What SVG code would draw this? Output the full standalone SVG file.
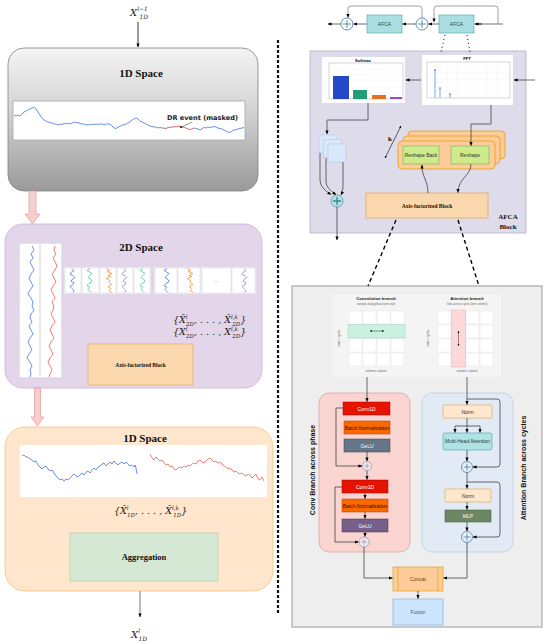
<svg xmlns="http://www.w3.org/2000/svg" width="550" height="644" viewBox="0 0 550 644">
<defs>
<style>
.sb{font-family:"Liberation Serif","DejaVu Serif",serif;font-weight:bold;fill:#111}
.ss{font-family:"Liberation Sans",Arial,sans-serif}
.m{font-family:"DejaVu Serif","Liberation Serif",serif;font-style:italic;fill:#222}
.ln{fill:none;stroke:#000;stroke-width:0.8}
.lg{fill:none;stroke:#444;stroke-width:0.8}
.cell{fill:#fff;stroke:#e6e6e6;stroke-width:0.5}
.pn{fill:#fff;stroke:#dcdcdc;stroke-width:0.6}
.wg{fill:none;stroke-width:0.7}
.bt{font-family:"Liberation Sans",Arial,sans-serif;font-size:5px;text-anchor:middle}
</style>
<linearGradient id="gray" x1="0" y1="0" x2="0" y2="1">
<stop offset="0" stop-color="#f4f4f4"/><stop offset="0.45" stop-color="#d2d2d2"/><stop offset="1" stop-color="#9a9a9a"/>
</linearGradient>
<marker id="ah" viewBox="0 0 10 10" refX="9" refY="5" markerWidth="4" markerHeight="4" markerUnits="userSpaceOnUse" orient="auto"><path d="M0,1 L10,5 L0,9 z" fill="#000"/></marker>
<marker id="ahs" viewBox="0 0 10 10" refX="9" refY="5" markerWidth="2.5" markerHeight="2.5" markerUnits="userSpaceOnUse" orient="auto-start-reverse"><path d="M0,1 L10,5 L0,9 z" fill="#000"/></marker>
<path id="w1" d="M4 0 L6 2 L3 4 L2 6 L5 7 L7 9 L4 11 L3 13 L6 14 L5 16 L2 18 L4 20 L6 22 L5 24"/>
<path id="w2" d="M6 0 L3 2 L5 3 L8 5 L6 7 L4 9 L7 11 L8 13 L5 15 L3 17 L6 19 L4 21 L7 24"/>
<path id="w3" d="M3 0 L7 2 L4 3 L9 5 L5 7 L8 8 L3 10 L7 12 L6 14 L9 16 L5 18 L8 20 L6 22 L9 24"/>
</defs>
<rect width="550" height="644" fill="#fff"/>

<!-- LEFT COLUMN -->
<g id="input-label">
<text x="130" y="16" class="m" font-size="10">X<tspan font-size="6" dy="-5">l−1</tspan><tspan font-size="6" dx="-8.5" dy="7.5">1D</tspan></text>
</g>
<g id="space1d-top">
<rect x="8" y="48" width="250" height="143" rx="16" fill="url(#gray)" stroke="#808080" stroke-width="0.8"/>
<text x="141" y="77" class="sb" font-size="11" text-anchor="middle">1D Space</text>
<rect x="13" y="101" width="232" height="39" fill="#fff" stroke="#a8a8a8" stroke-width="0.8"/>
<polyline class="wg" stroke="#2f5fe0" stroke-width="0.9" points="14,115 16,116 18,115 20,116 22,114 24,112 26,111 28,110 30,109 32,108 34,107.5 36,109 38,112 40,115 42,118 44,120 46,121 48,122 50,122.5 52,123 54,124 56,124 58,125 60,124 62,124.5 64,123.5 66,124 68,123 70,124 72,123 74,122 76,123 78,122.5 80,123.5 82,124 84,124 86,125 88,124.5 90,125 92,124 94,124.5 96,124 98,124.5 100,124 102,124 104,125 106,124 108,124 110,124 112,126 114,128 116,128.5 118,127 120,126.5 122,125 124,125 126,124 128,123 130,122 132,120 134,119 136,118 138,119 140,121 142,122 144,123 146,124 148,125 150,126 152,126.5 154,127 156,127 158,128 160,127.5 162,128 163,128"/>
<polyline class="wg" stroke="#e02020" stroke-width="0.9" points="163,128 166,128.5 168,127.5 170,127 172,127.5 174,126.5 176,127 178,126 180,126.5 182,127.5 184,127 186,128 188,129 190,129.5 192,129 194,128"/>
<polyline class="wg" stroke="#2f5fe0" stroke-width="0.9" points="194,128 196,128.5 198,129 200,130 202,128.5 204,127.5 206,128 208,127 210,127.5 212,127 214,126.5 216,127 218,128 220,128.5 222,129 224,130 226,131 228,132 230,132.5 232,131 234,130 236,129.5 238,129 240,128.5 242,128 244,127.5"/>
<text x="167" y="120" font-size="6.6" font-family="DejaVu Sans,Liberation Sans,sans-serif" font-weight="bold" fill="#222">DR event (masked)</text>
<line x1="192" y1="122" x2="181" y2="127" stroke="#333" stroke-width="0.5"/>
<circle cx="181" cy="127" r="0.9" fill="#000"/>
</g>
<g id="space2d">
<rect x="5" y="224" width="257" height="164" rx="18" fill="#e4d6ea" stroke="#c9b3d4" stroke-width="0.8"/>
<text x="141" y="251" class="sb" font-size="11" text-anchor="middle">2D Space</text>
<rect x="19" y="243" width="43" height="135" fill="#e8e8e8" stroke="#d8d8d8" stroke-width="0.5"/>
<rect x="20" y="244" width="19" height="133" fill="#fff"/>
<rect x="41" y="244" width="20" height="133" fill="#fff"/>
<path class="wg" stroke="#3060e0" d="M32 246 L34 250 L31 254 L33 258 L30 262 L32 266 L34 270 L31 274 L29 278 L31 282 L33 286 L30 290 L28 294 L31 298 L33 302 L32 306 L34 310 L31 314 L30 318 L32 322 L29 326 L31 330 L33 334 L30 338 L28 342 L30 346 L32 350 L29 354 L27 358 L30 362 L32 366 L30 370 L31 374 L30 377"/>
<path class="wg" stroke="#e84040" d="M55 246 L54 250 L56 254 L53 258 L55 262 L57 266 L55 270 L52 274 L54 278 L56 282 L53 286 L51 290 L53 294 L55 298 L52 302 L54 306 L53 310 L51 314 L53 318 L55 322 L52 326 L50 330 L52 334 L54 338 L51 342 L49 346 L51 350 L53 354 L50 358 L48 362 L50 366 L52 370 L50 374 L49 377"/>
<rect x="64" y="267" width="87" height="27" fill="#ececec"/>
<rect x="154" y="267" width="102" height="27" fill="#ececec"/>
<rect class="pn" x="65" y="268" width="16" height="25"/>
<rect class="pn" x="82" y="268" width="17" height="25"/>
<rect class="pn" x="100" y="268" width="16" height="25"/>
<rect class="pn" x="117" y="268" width="16" height="25"/>
<rect class="pn" x="134" y="268" width="16" height="25"/>
<rect class="pn" x="155" y="268" width="22" height="25"/>
<rect class="pn" x="178" y="268" width="22" height="25"/>
<rect class="pn" x="202" y="268" width="29" height="25"/>
<rect class="pn" x="232" y="268" width="23" height="25"/>
<use href="#w1" x="68" y="268.5" class="wg" stroke="#3a62e0"/>
<use href="#w2" x="84" y="268.5" class="wg" stroke="#2fb38a"/>
<use href="#w3" x="103" y="268.5" class="wg" stroke="#f08a24"/>
<use href="#w1" x="120" y="268.5" class="wg" stroke="#a070d0"/>
<use href="#w2" x="137" y="268.5" class="wg" stroke="#35c28e"/>
<use href="#w2" x="161" y="268.5" class="wg" stroke="#3a62e0"/>
<use href="#w3" x="184" y="268.5" class="wg" stroke="#f08a24"/>
<text x="216.5" y="282" class="ss" font-size="5" fill="#888" text-anchor="middle">...</text>
<use href="#w1" x="240" y="268.5" class="wg" stroke="#a070d0"/>
<text x="173" y="323" class="m" font-size="9.5">{X&#x302;<tspan font-size="5.5" dy="-4">l</tspan><tspan font-size="5.5" dx="-1.5" dy="6.5">2D</tspan><tspan dy="-2.5">, . . . , X&#x302;</tspan><tspan font-size="5.5" dy="-4">l,k</tspan><tspan font-size="5.5" dx="-5.5" dy="6.5">2D</tspan><tspan dy="-2.5">}</tspan></text>
<text x="173" y="335" class="m" font-size="9.5">{X<tspan font-size="5.5" dy="-4">l</tspan><tspan font-size="5.5" dx="-1.5" dy="6.5">2D</tspan><tspan dy="-2.5">, . . . , X</tspan><tspan font-size="5.5" dy="-4">l,k</tspan><tspan font-size="5.5" dx="-5.5" dy="6.5">2D</tspan><tspan dy="-2.5">}</tspan></text>
<rect x="88" y="344" width="105" height="41" fill="#fad7ac" stroke="#e8b070" stroke-width="0.8"/>
<text x="140.5" y="366.5" class="sb" font-size="5.5" text-anchor="middle">Axis-factorized Block</text>
</g>
<g id="space1d-bottom">
<rect x="5" y="427" width="268" height="164" rx="20" fill="#ffe6cc" stroke="#f2c27c" stroke-width="0.8"/>
<text x="145" y="442" class="sb" font-size="11" text-anchor="middle">1D Space</text>
<rect x="20" y="445" width="247" height="52" fill="#fff"/>
<polyline class="wg" stroke="#2f5fe0" points="22,456 24,455 26,457 28,457 30,459 32,460 34,462 36,461 38,465 40,467 42,469 44,467 46,466 48,469 50,471 52,470 54,473 56,476 58,478 60,480 62,479 64,481 66,479 68,480 70,478 72,476 74,474 76,476 78,477 80,475 82,473 84,475 86,472 88,471 90,473 92,470 94,468 96,470 98,467 100,466 102,464 104,463 106,466 108,464 110,462 112,464 114,461 116,463 118,465 120,463 122,462 124,464 126,462 128,464 130,466 132,465 134,467 135,465 136,468 137,474"/>
<polyline class="wg" stroke="#ec4a3a" points="150,454 152,458 154,460 156,457 158,459 160,461 162,460 164,463 166,465 168,464 170,467 172,466 174,469 176,470 178,468 180,467 182,468 184,466 186,467 188,465 190,466 192,464 194,463 196,464 198,461 200,460 202,462 204,463 206,461 208,459 210,458 212,460 214,462 216,461 218,463 220,462 222,464 224,466 226,467 228,469 230,468 232,470 234,472 236,471 238,473 240,474 242,473 244,475 246,476 248,474 250,475 252,478 254,476 256,474 258,479 260,480 262,477 264,481"/>
<text x="114" y="514" class="m" font-size="9.5">{X&#x302;<tspan font-size="5.5" dy="-4">l</tspan><tspan font-size="5.5" dx="-1.5" dy="6.5">1D</tspan><tspan dy="-2.5">, . . . , X&#x302;</tspan><tspan font-size="5.5" dy="-4">l,k</tspan><tspan font-size="5.5" dx="-5.5" dy="6.5">1D</tspan><tspan dy="-2.5">}</tspan></text>
<rect x="70" y="533" width="148" height="48" fill="#d5e8d4" stroke="#b3d5b0" stroke-width="0.8"/>
<text x="144" y="560" class="sb" font-size="8.5" text-anchor="middle">Aggregation</text>
</g>
<g id="output-label">
<text x="131" y="638" class="m" font-size="10">X<tspan font-size="6" dy="-5">l</tspan><tspan font-size="6" dx="-1.5" dy="7.5">1D</tspan></text>
</g>

<!-- RIGHT TOP -->
<g id="afca1">
<rect x="367" y="15" width="35" height="18" fill="#a9dfe0" stroke="#5aaeb0" stroke-width="0.7"/>
<text x="384.5" y="26" class="bt" fill="#2a4a50">AFCA</text>
</g>
<g id="afca2">
<rect x="439" y="15" width="35" height="18" fill="#a9dfe0" stroke="#5aaeb0" stroke-width="0.7"/>
<text x="456.5" y="26" class="bt" fill="#2a4a50">AFCA</text>
</g>
<g id="add1">
<circle cx="347" cy="24" r="6" fill="#fff" stroke="#3a7aa0" stroke-width="0.8"/>
<path d="M343 24 H351 M347 20 V28" stroke="#3a7aa0" stroke-width="0.8"/>
</g>
<g id="add2">
<circle cx="422" cy="24" r="6" fill="#fff" stroke="#3a7aa0" stroke-width="0.8"/>
<path d="M418 24 H426 M422 20 V28" stroke="#3a7aa0" stroke-width="0.8"/>
</g>

<!-- AFCA block -->
<g id="afca-block">
<rect x="310" y="51" width="216" height="182" fill="#dedbea" stroke="#b6b0c8" stroke-width="0.8"/>
<text x="508" y="219" class="sb" font-size="7" text-anchor="middle">AFCA</text>
<text x="508" y="229" class="sb" font-size="7" text-anchor="middle">Block</text>
</g>
<g id="softmax-chart">
<rect x="322" y="57" width="83" height="46" fill="#fff"/>
<text x="363" y="62" class="ss" font-size="4" font-weight="bold" text-anchor="middle">Softmax</text>
<path d="M329 69 H403 M329 75 H403 M329 81 H403 M329 87 H403 M329 93 H403" stroke="#eee" stroke-width="0.4"/>
<rect x="329" y="63" width="74" height="36" fill="none" stroke="#999" stroke-width="0.4"/>
<rect x="333" y="76" width="16" height="23" fill="#2448c8"/>
<rect x="353" y="90" width="14" height="9" fill="#1f9e78"/>
<rect x="372" y="95" width="14" height="4" fill="#e8701e"/>
<rect x="390" y="97" width="12" height="2" fill="#9a4bc0"/>
</g>
<g id="fft-chart">
<rect x="422" y="55" width="91" height="50" fill="#fff"/>
<text x="467" y="60" class="ss" font-size="4" font-weight="bold" text-anchor="middle">FFT</text>
<path d="M427 67 H510 M427 73 H510 M427 79 H510 M427 85 H510 M427 91 H510 M437 62 V98 M447 62 V98 M457 62 V98 M467 62 V98 M477 62 V98 M487 62 V98 M497 62 V98" stroke="#eee" stroke-width="0.4"/>
<rect x="427" y="62" width="83" height="36" fill="none" stroke="#999" stroke-width="0.4"/>
<path d="M435 70 V98 M440 88 V98 M450 94 V98" stroke="#8fb4f0" stroke-width="1.2"/>
<circle cx="435" cy="70" r="0.8" fill="#3060d0"/><circle cx="440" cy="88" r="0.8" fill="#3060d0"/><circle cx="450" cy="94" r="0.8" fill="#3060d0"/>
</g>
<g id="weights-stack">
<rect x="319" y="135" width="18" height="18" fill="#dae8fc" stroke="#b0c8e8" stroke-width="0.6"/>
<rect x="323.5" y="139.5" width="18" height="18" fill="#dae8fc" stroke="#b0c8e8" stroke-width="0.6"/>
<rect x="328" y="144" width="18" height="18" fill="#dae8fc" stroke="#b0c8e8" stroke-width="0.6"/>
</g>
<g id="weighted-sum">
<circle cx="337" cy="201" r="6" fill="#b8e0e2" stroke="#5a9aa0" stroke-width="0.8"/>
<path d="M333 201 H341 M337 197 V205" stroke="#2a8a9a" stroke-width="1.3"/>
</g>
<g id="k-stack">
<rect x="408" y="131" width="97" height="28" rx="4" fill="#ffcc99" stroke="#d79b00" stroke-width="0.7"/>
<rect x="403" y="136" width="97" height="28" rx="4" fill="#ffcc99" stroke="#d79b00" stroke-width="0.7"/>
<rect x="398" y="141" width="97" height="28" rx="4" fill="#ffcc99" stroke="#d79b00" stroke-width="0.7"/>
<text x="390" y="141" class="sb" font-size="7" text-anchor="middle">k</text>
</g>
<g id="reshape-back">
<rect x="403" y="146" width="36" height="18" fill="#cdeb8b" stroke="#82b366" stroke-width="0.7"/>
<text x="421" y="156.8" class="bt" font-size="4.5" fill="#333">Reshape Back</text>
</g>
<g id="reshape">
<rect x="451" y="146" width="38" height="18" fill="#cdeb8b" stroke="#82b366" stroke-width="0.7"/>
<text x="470" y="156.8" class="bt" font-size="4.5" fill="#333">Reshape</text>
</g>
<g id="axis-block">
<rect x="366" y="193" width="122" height="25" fill="#fad7ac" stroke="#e2aa62" stroke-width="0.8"/>
<text x="427" y="207.5" class="sb" font-size="5.5" text-anchor="middle">Axis-factorized Block</text>
</g>

<!-- RIGHT BOTTOM panel -->
<g id="detail-panel">
<rect x="292" y="286" width="250" height="341" fill="#eeeeee" stroke="#b8b8b8" stroke-width="1.5"/>
<rect x="332" y="294" width="169" height="83" fill="#f4f4f4"/>
</g>
<g id="conv-grid">
<text x="376" y="299.5" class="ss" font-size="4.2" font-weight="bold" text-anchor="middle" fill="#222">Convolution branch</text>
<text x="376" y="305" class="ss" font-size="2.8" text-anchor="middle" fill="#666">sweeps along phase (one row)</text>
<rect class="cell" x="349" y="311" width="13" height="13"/><rect class="cell" x="363" y="311" width="13" height="13"/><rect class="cell" x="377" y="311" width="13" height="13"/><rect class="cell" x="391" y="311" width="13" height="13"/>
<rect class="cell" x="349" y="339" width="13" height="13"/><rect class="cell" x="363" y="339" width="13" height="13"/><rect class="cell" x="377" y="339" width="13" height="13"/><rect class="cell" x="391" y="339" width="13" height="13"/>
<rect class="cell" x="349" y="353" width="13" height="13"/><rect class="cell" x="363" y="353" width="13" height="13"/><rect class="cell" x="377" y="353" width="13" height="13"/><rect class="cell" x="391" y="353" width="13" height="13"/>
<rect x="348" y="324.5" width="57" height="13.5" fill="#c9f0e0" stroke="#9fd6bd" stroke-width="0.5"/>
<line x1="370" y1="331" x2="384" y2="331" stroke="#000" stroke-width="0.4" marker-start="url(#ahs)" marker-end="url(#ahs)"/>
<text transform="translate(339.5 338) rotate(-90)" class="ss" font-size="2.8" text-anchor="middle" fill="#666">rows = cycles</text>
<text x="376" y="372" class="ss" font-size="2.8" text-anchor="middle" fill="#666">columns = phase</text>
</g>
<g id="att-grid">
<text x="467" y="299.5" class="ss" font-size="4.2" font-weight="bold" text-anchor="middle" fill="#222">Attention branch</text>
<text x="467" y="305" class="ss" font-size="2.8" text-anchor="middle" fill="#666">links across cycles (one column)</text>
<rect class="cell" x="438" y="311" width="13" height="13"/><rect class="cell" x="466" y="311" width="13" height="13"/><rect class="cell" x="480" y="311" width="13" height="13"/>
<rect class="cell" x="438" y="325" width="13" height="13"/><rect class="cell" x="466" y="325" width="13" height="13"/><rect class="cell" x="480" y="325" width="13" height="13"/>
<rect class="cell" x="438" y="339" width="13" height="13"/><rect class="cell" x="466" y="339" width="13" height="13"/><rect class="cell" x="480" y="339" width="13" height="13"/>
<rect class="cell" x="438" y="353" width="13" height="13"/><rect class="cell" x="466" y="353" width="13" height="13"/><rect class="cell" x="480" y="353" width="13" height="13"/>
<rect x="451.5" y="310" width="14" height="57" fill="#fdd8d8" stroke="#f0aeae" stroke-width="0.5"/>
<line x1="458.5" y1="331" x2="458.5" y2="346" stroke="#000" stroke-width="0.4" marker-start="url(#ahs)" marker-end="url(#ahs)"/>
<text transform="translate(428.5 338) rotate(-90)" class="ss" font-size="2.8" text-anchor="middle" fill="#666">rows = cycles</text>
<text x="467" y="372" class="ss" font-size="2.8" text-anchor="middle" fill="#666">columns = phase</text>
</g>
<g id="conv-branch">
<rect x="319" y="393" width="91" height="159" rx="10" fill="#f9d4d1" stroke="#dba39f" stroke-width="0.8"/>
<text transform="translate(314.5 470) rotate(-90)" class="ss" font-size="7" font-weight="bold" text-anchor="middle" fill="#111">Conv Branch across phase</text>
</g>
<g id="conv1d-1"><rect x="343" y="402" width="47" height="13" fill="#e51400" stroke="#b20000" stroke-width="0.5"/><text x="366.5" y="410.5" class="bt" fill="#fff">Conv1D</text></g>
<g id="bn-1"><rect x="344" y="421" width="46" height="13" fill="#fa6800" stroke="#c73500" stroke-width="0.5"/><text x="367" y="429.5" class="bt" fill="#2a1000">Batch Normalization</text></g>
<g id="gelu-1"><rect x="344" y="439" width="46" height="13" fill="#647687" stroke="#314354" stroke-width="0.5"/><text x="367" y="447.5" class="bt" fill="#fff">GeLU</text></g>
<g id="conv-add-1"><circle cx="367" cy="466" r="4.5" fill="#f4e8ee" stroke="#7a8aa0" stroke-width="0.6"/><path d="M364.5 466 H369.5 M367 463.5 V468.5" stroke="#7a8aa0" stroke-width="0.6"/></g>
<g id="conv1d-2"><rect x="342" y="480" width="46" height="13" fill="#e51400" stroke="#b20000" stroke-width="0.5"/><text x="365" y="488.5" class="bt" fill="#fff">Conv1D</text></g>
<g id="bn-2"><rect x="342" y="499" width="46" height="13" fill="#fa6800" stroke="#c73500" stroke-width="0.5"/><text x="365" y="507.5" class="bt" fill="#2a1000">Batch Normalization</text></g>
<g id="gelu-2"><rect x="342" y="519" width="46" height="13" fill="#76608a" stroke="#432d57" stroke-width="0.5"/><text x="365" y="527.5" class="bt" fill="#fff">GeLU</text></g>
<g id="conv-add-2"><circle cx="364" cy="542" r="5" fill="#f4e8ee" stroke="#7a8aa0" stroke-width="0.6"/><path d="M361 542 H367 M364 539 V545" stroke="#7a8aa0" stroke-width="0.6"/></g>

<g id="att-branch">
<rect x="422" y="393" width="91" height="159" rx="10" fill="#e2eaf6" stroke="#bdcde3" stroke-width="0.8"/>
<text transform="translate(526 468) rotate(-90)" class="ss" font-size="7" font-weight="bold" text-anchor="middle" fill="#111">Attention Branch across cycles</text>
</g>
<g id="norm-1"><rect x="443" y="405" width="49" height="13" rx="1" fill="#ffe6cc" stroke="#d79b00" stroke-width="0.5"/><text x="467.5" y="413.5" class="bt" fill="#333">Norm</text></g>
<g id="mha"><rect x="443" y="433" width="49" height="17" rx="2" fill="#b0e3e6" stroke="#2a9098" stroke-width="0.5"/><text x="467.5" y="443.3" class="bt" font-size="4.8" fill="#333">Multi-Head Attention</text></g>
<g id="att-add-1"><circle cx="467" cy="467" r="5.5" fill="#e8f0fa" stroke="#3a6f98" stroke-width="0.7"/><path d="M463.5 467 H470.5 M467 463.5 V470.5" stroke="#3a6f98" stroke-width="0.7"/></g>
<g id="norm-2"><rect x="445" y="489" width="46" height="13" rx="1" fill="#ffe6cc" stroke="#d79b00" stroke-width="0.5"/><text x="468" y="497.5" class="bt" fill="#333">Norm</text></g>
<g id="mlp"><rect x="445" y="510" width="46" height="12" fill="#6d8764" stroke="#3a5431" stroke-width="0.5"/><text x="468" y="518" class="bt" fill="#fff">MLP</text></g>
<g id="att-add-2"><circle cx="467" cy="537" r="5.5" fill="#e8f0fa" stroke="#3a6f98" stroke-width="0.7"/><path d="M463.5 537 H470.5 M467 533.5 V540.5" stroke="#3a6f98" stroke-width="0.7"/></g>
<g id="concat"><rect x="393" y="567" width="50" height="24" fill="#ffcc99" stroke="#d79b00" stroke-width="0.6"/><path d="M398 567 V591 M438 567 V591" stroke="#d79b00" stroke-width="0.6"/><text x="418" y="581" class="bt" fill="#6a4010">Concat</text></g>
<g id="fusion"><rect x="393" y="599" width="50" height="26" fill="#cce5ff" stroke="#86a6cf" stroke-width="0.6"/><text x="418" y="613.8" class="bt" fill="#4a5a7a">Fusion</text></g>

<!-- CONNECTORS -->
<g id="connectors">
<line x1="138" y1="22" x2="138" y2="47" class="ln" marker-end="url(#ah)"/>
<polygon points="29,191 36,191 36,214 40,214 32.5,224 25,214 29,214" fill="#f8cecc" stroke="#e49a98" stroke-width="0.7"/>
<polygon points="34.5,388 40.5,388 40.5,417 44,417 37.5,426 31,417 34.5,417" fill="#f8cecc" stroke="#e49a98" stroke-width="0.7"/>
<line x1="140" y1="591" x2="140" y2="617" stroke="#555" stroke-width="0.8" marker-end="url(#ah)"/>
<line x1="278" y1="40" x2="278" y2="614" stroke="#111" stroke-width="2.2" stroke-dasharray="3,2"/>
<line x1="503" y1="24" x2="475" y2="24" stroke="#999" stroke-width="1.4"/>
<line x1="482" y1="24" x2="475" y2="24" class="ln" marker-end="url(#ah)"/>
<path d="M498 24 V9 Q498 6 495 6 H437 Q434 6 434 9 V22" fill="none" stroke="#888" stroke-width="0.8" marker-end="url(#ah)"/>
<line x1="439" y1="24" x2="428.5" y2="24" class="lg" marker-end="url(#ah)"/>
<line x1="416" y1="24" x2="402.5" y2="24" class="lg" marker-end="url(#ah)"/>
<path d="M422 18 V9 Q422 6 419 6 H351 Q348 6 348 9 V17.5" fill="none" stroke="#888" stroke-width="0.8" marker-end="url(#ah)"/>
<line x1="367" y1="24" x2="353.5" y2="24" class="lg" marker-end="url(#ah)"/>
<line x1="341" y1="24" x2="328" y2="24" class="lg" marker-end="url(#ah)"/>
<path d="M445 35 L441 52 M467 35 L470 52" stroke="#000" stroke-width="1" stroke-dasharray="1,3" fill="none"/>
<line x1="535" y1="80" x2="514" y2="80" class="lg" marker-end="url(#ah)"/>
<line x1="421" y1="80" x2="406" y2="80" class="lg" marker-end="url(#ah)"/>
<path d="M368 103 V120 H327 V134" class="lg" marker-end="url(#ah)"/>
<path d="M491 105 V124 H471 V145.5" class="lg" marker-end="url(#ah)"/>
<path d="M320 153 V180 Q320 188 331 194.5" class="lg" marker-end="url(#ah)"/>
<path d="M326 158 V182 Q326 188 336 194.5" class="lg" marker-end="url(#ah)"/>
<path d="M343 162 V186 Q343 191 341 195" class="lg" marker-end="url(#ah)"/>
<line x1="337" y1="207" x2="337" y2="240" class="lg" marker-end="url(#ah)"/>
<line x1="385" y1="158" x2="401" y2="126" stroke="#000" stroke-width="0.6" marker-start="url(#ahs)" marker-end="url(#ahs)"/>
<path d="M428 193 C428 180 422 178 422 165" class="lg" marker-end="url(#ah)"/>
<path d="M471 164 C471 176 458 178 458 192.5" class="lg" marker-end="url(#ah)"/>
<path d="M396 220 L368 286 M458 220 L479 286" stroke="#000" stroke-width="1.4" stroke-dasharray="4,3" fill="none"/>
<line x1="367" y1="377" x2="367" y2="401.5" class="lg" marker-end="url(#ah)"/>
<line x1="367" y1="452" x2="367" y2="461" class="lg" marker-end="url(#ah)"/>
<path d="M343 408 H336 V466 H362" class="lg" marker-end="url(#ah)"/>
<line x1="367" y1="470.5" x2="367" y2="479.5" class="lg" marker-end="url(#ah)"/>
<line x1="365" y1="493" x2="365" y2="498.5" class="lg" marker-end="url(#ah)"/>
<line x1="365" y1="512" x2="365" y2="518.5" class="lg" marker-end="url(#ah)"/>
<line x1="365" y1="532" x2="365" y2="536.5" class="lg" marker-end="url(#ah)"/>
<path d="M342 487 H335 V542 H358.5" class="lg" marker-end="url(#ah)"/>
<path d="M364 547 V578 H392.5" class="lg" marker-end="url(#ah)"/>
<line x1="467" y1="377" x2="467" y2="404.5" class="lg" marker-end="url(#ah)"/>
<path d="M467 399 H497 Q500 399 500 402 V464 Q500 467 497 467 H473" class="lg" marker-end="url(#ah)"/>
<path d="M467 418 V426 M455 426 H480" class="lg"/>
<path d="M455 426 V432.5" class="lg" marker-end="url(#ah)"/>
<path d="M467 426 V432.5" class="lg" marker-end="url(#ah)"/>
<path d="M480 426 V432.5" class="lg" marker-end="url(#ah)"/>
<line x1="467" y1="450" x2="467" y2="461" class="lg" marker-end="url(#ah)"/>
<line x1="467" y1="472.5" x2="467" y2="488.5" class="lg" marker-end="url(#ah)"/>
<path d="M467 482 H497 Q500 482 500 485 V534 Q500 537 497 537 H473" class="lg" marker-end="url(#ah)"/>
<line x1="467" y1="502" x2="467" y2="509.5" class="lg" marker-end="url(#ah)"/>
<line x1="467" y1="522" x2="467" y2="531" class="lg" marker-end="url(#ah)"/>
<path d="M467 542.5 V578 H443.5" class="lg" marker-end="url(#ah)"/>
<line x1="418" y1="591" x2="418" y2="598.5" class="lg" marker-end="url(#ah)"/>
</g>
</svg>
